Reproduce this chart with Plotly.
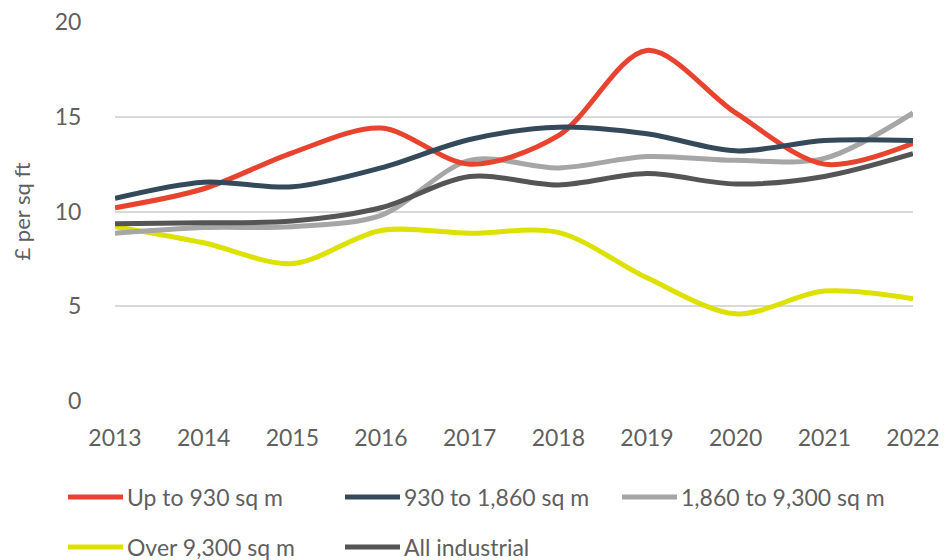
import plotly.graph_objects as go

years = [2013, 2014, 2015, 2016, 2017, 2018, 2019, 2020, 2021, 2022]

up_to_930 = [10.2, 11.2, 13.1, 14.4, 12.5, 14.0, 18.5, 15.2, 12.5, 13.6]
from_930_to_1860 = [10.7, 11.55, 11.3, 12.3, 13.8, 14.45, 14.1, 13.2, 13.75, 13.75]
from_1860_to_9300 = [8.85, 9.15, 9.2, 9.8, 12.7, 12.3, 12.9, 12.7, 12.8, 15.2]
over_9300 = [9.2, 8.35, 7.25, 9.0, 8.85, 8.9, 6.5, 4.6, 5.8, 5.4]
all_industrial = [9.35, 9.4, 9.5, 10.2, 11.85, 11.4, 12.0, 11.45, 11.85, 13.05]

series_names = ["Up to 930 sq m", "930 to 1,860 sq m", "1,860 to 9,300 sq m",
                "Over 9,300 sq m", "All industrial"]
series_values = [up_to_930, from_930_to_1860, from_1860_to_9300, over_9300, all_industrial]
series_colors = ["#E8432E", "#34495A", "#A6A6A6", "#DDE100", "#555555"]

y_ticks = [0, 5, 10, 15, 20]

FONT = "Lato, Open Sans, sans-serif"
TEXT_COLOR = "#5F5F5F"

# plot area in pixels
L, R, T, B = 115, 31, 22, 159
W, H = 944, 560
pw, ph = W - L - R, H - T - B

fig = go.Figure()
draw_order = [3, 2, 4, 0, 1]
for i in draw_order:
    fig.add_trace(go.Scatter(
        x=years, y=series_values[i], name=series_names[i], mode="lines",
        line=dict(color=series_colors[i], width=5, shape="spline", smoothing=0.9),
        showlegend=False, hoverinfo="x+y+name",
    ))

# custom legend: two rows, three columns
legend_cols = [68, 345, 622]
legend_rows = [497, 547]
shapes, annotations = [], []
for i, name in enumerate(series_names):
    px0 = legend_cols[i % 3]
    py = legend_rows[i // 3]
    yy = (T + ph - py) / ph
    shapes.append(dict(type="line", xref="paper", yref="paper",
                       x0=(px0 - L) / pw, x1=(px0 + 55 - L) / pw, y0=yy, y1=yy,
                       line=dict(color=series_colors[i], width=5)))
    annotations.append(dict(text=name, xref="paper", yref="paper",
                            x=(px0 + 57 - L) / pw, y=yy, xanchor="left", yanchor="middle",
                            showarrow=False,
                            font=dict(family=FONT, size=23, color=TEXT_COLOR)))

fig.update_layout(
    width=W, height=H,
    margin=dict(l=L, r=R, t=T, b=B),
    paper_bgcolor="white", plot_bgcolor="white",
    font=dict(family=FONT, color=TEXT_COLOR),
    shapes=shapes, annotations=annotations,
    xaxis=dict(range=[2013, 2022], tickvals=years, ticktext=[str(y) for y in years],
               showgrid=False, zeroline=False, showline=False,
               tickfont=dict(size=23, color=TEXT_COLOR),
               ticks="outside", ticklen=16, tickcolor="rgba(0,0,0,0)",
               automargin=False),
    yaxis=dict(range=[0, 20], tickvals=y_ticks, showgrid=True, gridcolor="#D9D9D9",
               gridwidth=1.5, zeroline=False, showline=False,
               tickfont=dict(size=23, color=TEXT_COLOR),
               ticks="outside", ticklen=28, tickcolor="rgba(0,0,0,0)",
               title=dict(text="£ per sq ft", font=dict(size=22, color=TEXT_COLOR), standoff=18),
               automargin=False),
    showlegend=False,
)

fig.write_html("out.html")
